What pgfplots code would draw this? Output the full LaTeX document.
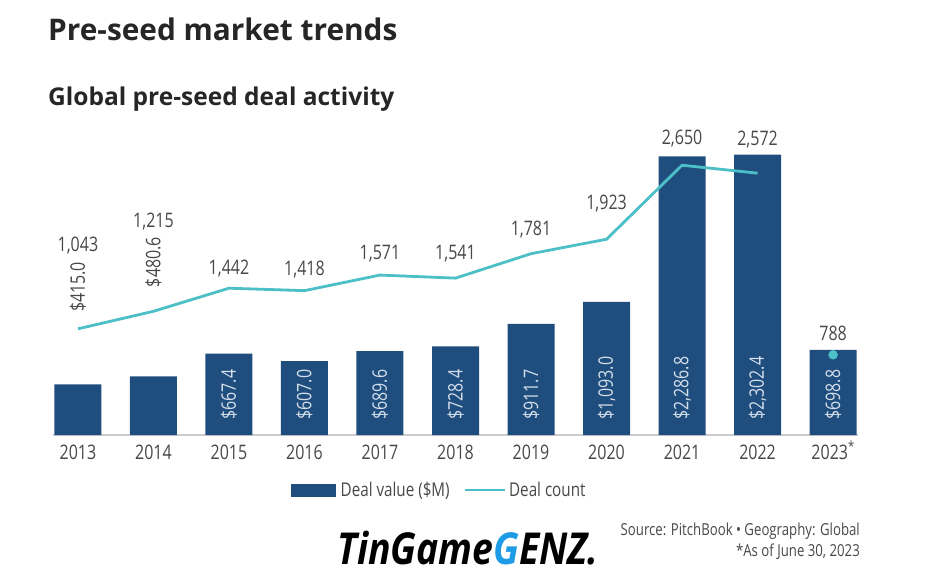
\documentclass[border=0pt]{standalone}
\usepackage{fontspec}
\setmainfont{Open Sans}
\newfontfamily\condfont[FakeStretch=0.8]{Open Sans}
\newfontfamily\wmfont[FakeStretch=0.85]{Open Sans}
\usepackage{pgfplots}
\pgfplotsset{compat=1.18}
\definecolor{barblue}{HTML}{1F4E7E}
\definecolor{lineteal}{HTML}{4CC0C6}
\definecolor{txt}{HTML}{484848}
\definecolor{inlab}{HTML}{D3DEEA}
\definecolor{wmblue}{HTML}{1E9BE6}
\begin{document}
\begin{tikzpicture}
\path[use as bounding box, fill=white] (0pt,0pt) rectangle (940pt,-575pt);
\node[anchor=base west, inner sep=0pt, text=black!85] at (48pt,-41pt) {\fontsize{29.8}{34}\selectfont\bfseries Pre-seed market trends};
\node[anchor=base west, inner sep=0pt, text=black!85] at (48pt,-106pt) {\fontsize{24.5}{28}\selectfont\bfseries Global pre-seed deal activity};

\begin{axis}[at={(53pt,-435pt)}, anchor=south west, scale only axis,
  width=805pt, height=300pt, xmin=-0.33, xmax=10.33, ymin=0, ymax=2463,
  axis y line=none, axis x line*=bottom,
  x axis line style={-, draw=black!20, line width=1.2pt},
  xtick={0,1,2,3,4,5,6,7,8,9,10},
  xticklabels={2013,2014,2015,2016,2017,2018,2019,2020,2021,2022,2023\smash{\textsuperscript{*}}},
  major tick length=0pt,
  xticklabel style={font=\condfont\fontsize{20}{24}\selectfont, text=txt, yshift=-6pt},
  clip=false]
\addplot[ybar, bar width=47pt, fill=barblue, draw=none] coordinates {
 (0,415.0) (1,480.6) (2,667.4) (3,607.0) (4,689.6) (5,728.4)
 (6,911.7) (7,1093.0) (8,2286.8) (9,2302.4) (10,698.8)};
\addplot[draw=none, mark=none, point meta=explicit,
  nodes near coords={\$\pgfmathprintnumber[fixed, fixed zerofill, precision=1, 1000 sep={,}, assume math mode=true]{\pgfplotspointmeta}},
  every node near coord/.append style={rotate=90, anchor=west, text=inlab, inner sep=0pt,
    font=\condfont\fontsize{20}{24}\selectfont}] coordinates {
 (2,123) [667.4] (3,123) [607.0] (4,123) [689.6] (5,123) [728.4]
 (6,123) [911.7] (7,123) [1093.0] (8,123) [2286.8] (9,123) [2302.4] (10,123) [698.8]};
\end{axis}

\begin{axis}[at={(53pt,-435pt)}, anchor=south west, scale only axis,
  width=805pt, height=300pt, xmin=-0.33, xmax=10.33, ymin=0, ymax=2947,
  hide axis, clip=false,
  legend columns=2,
  legend style={at={(0.48,-0.183)}, anchor=center, draw=none, fill=none,
    font=\condfont\fontsize{19}{23}\selectfont, text=txt,
    /tikz/every even column/.append style={column sep=12pt}}]
\addlegendimage{legend image code/.code={\fill[barblue] (0pt,-6pt) rectangle (44pt,6pt); \path (47pt,0pt);}}
\addlegendentry{Deal value (\$M)}
\addlegendimage{legend image code/.code={\draw[lineteal, line width=2.5pt] (0pt,0pt) -- (40pt,0pt); \path (42pt,0pt);}}
\addlegendentry{Deal count}
\addplot[lineteal, line width=2.8pt, mark=none, forget plot] coordinates {
 (0,1043) (1,1215) (2,1442) (3,1418) (4,1571) (5,1541) (6,1781) (7,1923) (8,2650) (9,2572)};
\addplot[lineteal, only marks, mark=*, mark size=4.5pt, forget plot] coordinates {(10,788)};
\addplot[draw=none, mark=none, point meta=explicit, forget plot,
  nodes near coords={\pgfmathprintnumber[fixed, precision=0, 1000 sep={,}, assume math mode=true]{\pgfplotspointmeta}},
  every node near coord/.append style={anchor=center, text=txt, inner sep=0pt,
    font=\condfont\fontsize{20}{24}\selectfont}] coordinates {
 (0,1866) [1043] (1,2092) [1215] (2,1631) [1442] (3,1621) [1418] (4,1778) [1571]
 (5,1778) [1541] (6,2014) [1781] (7,2269) [1923] (8,2917) [2650] (9,2898) [2572] (10,1002) [788]};
\addplot[draw=none, mark=none, point meta=explicit, forget plot,
  nodes near coords={\$\pgfmathprintnumber[fixed, fixed zerofill, precision=1, 1000 sep={,}, assume math mode=true]{\pgfplotspointmeta}},
  every node near coord/.append style={rotate=90, anchor=center, text=txt, inner sep=0pt,
    font=\condfont\fontsize{20}{24}\selectfont}] coordinates {
 (0,1454) [415.0] (1,1699) [480.6]};
\end{axis}

\node[anchor=base east, inner sep=0pt, text=txt] at (860pt,-535pt) {\condfont\fontsize{16.5}{20}\selectfont Source: PitchBook \textbullet{} Geography: Global};
\node[anchor=base east, inner sep=0pt, text=txt] at (860pt,-556pt) {\condfont\fontsize{16.5}{20}\selectfont *As of June 30, 2023};
\node[anchor=base west, inner sep=0pt, text=black] at (337pt,-564pt) {\wmfont\fontsize{44}{48}\selectfont\bfseries\itshape TinGame\textcolor{wmblue}{G}ENZ.};
\end{tikzpicture}
\end{document}
